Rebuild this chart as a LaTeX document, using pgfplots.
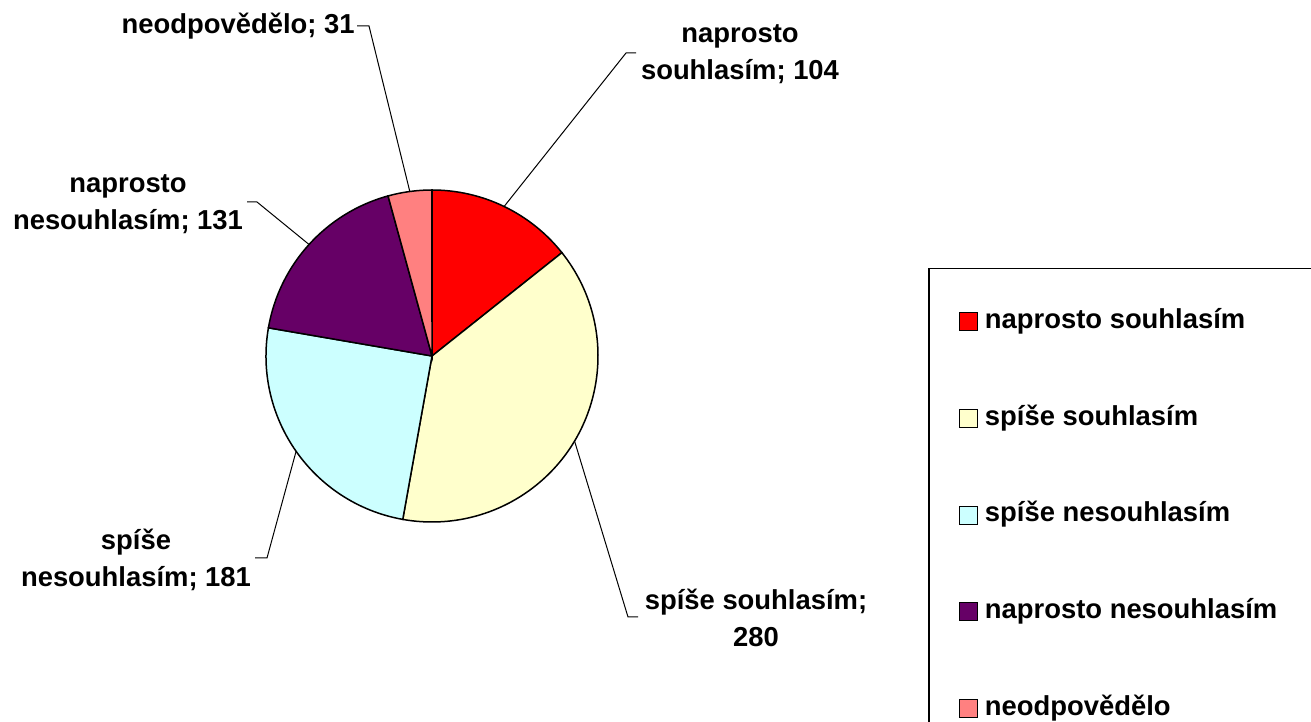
\documentclass[border=0pt]{standalone}
\usepackage{fontspec}
\setmainfont{Liberation Sans}
\usepackage{pgfplots}
\usepackage{pgfplotstable}
\pgfplotsset{compat=1.18}
\definecolor{cA}{RGB}{255,0,0}
\definecolor{cB}{RGB}{255,255,204}
\definecolor{cC}{RGB}{204,255,255}
\definecolor{cD}{RGB}{102,0,102}
\definecolor{cE}{RGB}{255,128,128}

\pgfplotstableread{
idx value
0 104
1 280
2 181
3 131
4 31
}\piedata

\begin{document}
\begin{tikzpicture}[lbl/.style={font=\bfseries\fontsize{13.7}{18.5}\selectfont, align=center, inner sep=0pt}]
\useasboundingbox (0,0) rectangle (655.5pt,361pt);
\clip (0,0) rectangle (655.5pt,361pt);
\pgfplotstablegetelem{0}{value}\of\piedata \let\vA\pgfplotsretval
\pgfplotstablegetelem{1}{value}\of\piedata \let\vB\pgfplotsretval
\pgfplotstablegetelem{2}{value}\of\piedata \let\vC\pgfplotsretval
\pgfplotstablegetelem{3}{value}\of\piedata \let\vD\pgfplotsretval
\pgfplotstablegetelem{4}{value}\of\piedata \let\vE\pgfplotsretval
\pgfmathsetmacro\tot{\vA+\vB+\vC+\vD+\vE}
\pgfmathsetmacro\aA{90}
\pgfmathsetmacro\aB{\aA-360*(\vA/\tot)}
\pgfmathsetmacro\aC{\aB-360*(\vB/\tot)}
\pgfmathsetmacro\aD{\aC-360*(\vC/\tot)}
\pgfmathsetmacro\aE{\aD-360*(\vD/\tot)}
\pgfmathsetmacro\aF{\aE-360*(\vE/\tot)}
\pgfmathsetmacro\mA{(\aA+\aB)/2}
\pgfmathsetmacro\mB{(\aB+\aC)/2}
\pgfmathsetmacro\mC{(\aC+\aD)/2}
\pgfmathsetmacro\mD{(\aD+\aE)/2}
\pgfmathsetmacro\mE{(\aE+\aF)/2}
\begin{axis}[
  at={(0,0)}, anchor=south west, scale only axis,
  width=655.5pt, height=361pt,
  xmin=0, xmax=1311, ymin=0, ymax=722,
  hide axis, clip=false,
  legend style={at={(0.70785,0.62881)}, anchor=north west, draw=black, line width=0.75pt, fill=white,
    font=\bfseries\fontsize{13.7}{16}\selectfont,
    inner xsep=15pt, inner ysep=20pt, row sep=35.6pt,
    nodes={inner xsep=3.6pt, inner ysep=0pt, text height=9.8pt, text depth=3pt},
    cells={anchor=west}},
  legend image code/.code={\draw[#1, line width=0.5pt] (0pt,-4.5pt) rectangle (9pt,4.5pt);},
]
\addlegendimage{fill=cA, draw=black}
\addlegendentry{naprosto souhlasím}
\addlegendimage{fill=cB, draw=black}
\addlegendentry{spíše souhlasím}
\addlegendimage{fill=cC, draw=black}
\addlegendentry{spíše nesouhlasím}
\addlegendimage{fill=cD, draw=black}
\addlegendentry{naprosto nesouhlasím\hspace{40pt}}
\addlegendimage{fill=cE, draw=black}
\addlegendentry{neodpovědělo}

\filldraw[fill=cA, draw=black, line width=0.75pt] (axis cs:432,366) -- ++(\aA:83pt) arc[start angle=\aA, end angle=\aB, radius=83pt] -- cycle;
\filldraw[fill=cB, draw=black, line width=0.75pt] (axis cs:432,366) -- ++(\aB:83pt) arc[start angle=\aB, end angle=\aC, radius=83pt] -- cycle;
\filldraw[fill=cC, draw=black, line width=0.75pt] (axis cs:432,366) -- ++(\aC:83pt) arc[start angle=\aC, end angle=\aD, radius=83pt] -- cycle;
\filldraw[fill=cD, draw=black, line width=0.75pt] (axis cs:432,366) -- ++(\aD:83pt) arc[start angle=\aD, end angle=\aE, radius=83pt] -- cycle;
\filldraw[fill=cE, draw=black, line width=0.75pt] (axis cs:432,366) -- ++(\aE:83pt) arc[start angle=\aE, end angle=\aF, radius=83pt] -- cycle;

\draw[line width=0.5pt] (axis cs:432,366) ++(\mA:83pt) -- (axis cs:626,669) -- (axis cs:636,669);
\draw[line width=0.5pt] (axis cs:432,366) ++(\mB:83pt) -- (axis cs:628,105) -- (axis cs:638,105);
\draw[line width=0.5pt] (axis cs:432,366) ++(\mC:83pt) -- (axis cs:267,164) -- (axis cs:255,164);
\draw[line width=0.5pt] (axis cs:432,366) ++(\mD:83pt) -- (axis cs:257,520) -- (axis cs:247,520);
\draw[line width=0.5pt] (axis cs:432,366) ++(\mE:83pt) -- (axis cs:369,696) -- (axis cs:357,696);

\node[lbl, anchor=east] at (axis cs:355,696) {neodpovědělo; 31};
\node[lbl] at (axis cs:740,668) {naprosto\\souhlasím; 104};
\node[lbl] at (axis cs:128,518) {naprosto\\nesouhlasím; 131};
\node[lbl] at (axis cs:136,162) {spíše\\nesouhlasím; 181};
\node[lbl] at (axis cs:756,104) {spíše souhlasím;\\280};
\end{axis}
\end{tikzpicture}
\end{document}
